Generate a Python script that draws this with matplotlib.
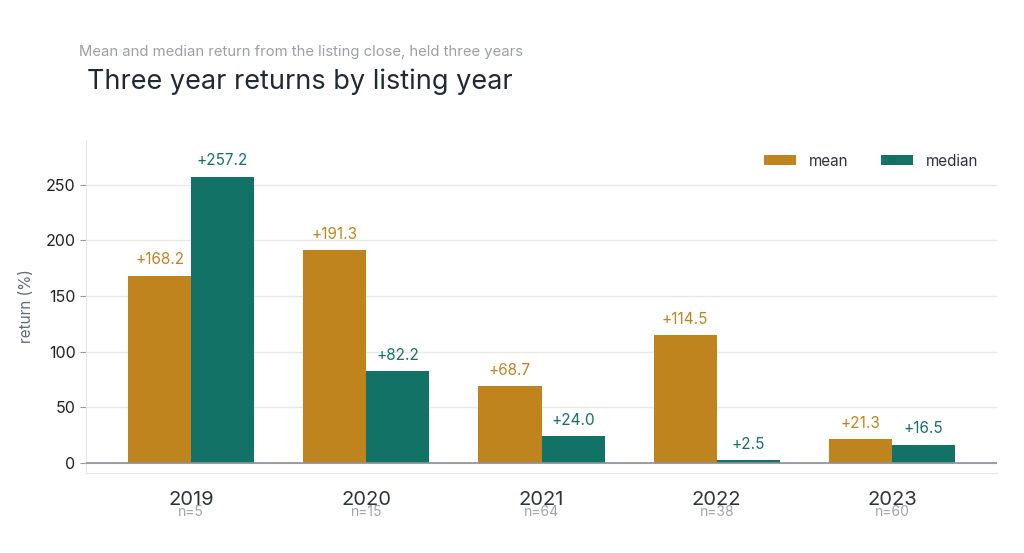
import matplotlib.pyplot as plt
import numpy as np

plt.rcParams['font.family'] = ['Inter', 'DejaVu Sans']

# data
years = ["2019", "2020", "2021", "2022", "2023"]
counts = [5, 15, 64, 38, 60]
mean_ret = [168.2, 191.3, 68.7, 114.5, 21.3]
median_ret = [257.2, 82.2, 24.0, 2.5, 16.5]

c_mean = "#c0841f"
c_median = "#137266"
grid_c = "#e8e8e4"

fig = plt.figure(figsize=(10.24, 5.53), dpi=100)
ax = fig.add_axes([86 / 1024, 1 - 473 / 553, (997 - 86) / 1024, (473 - 140) / 553])

x = np.arange(len(years))
w = 0.36
b1 = ax.bar(x - w / 2, mean_ret, w, color=c_mean, label="mean", zorder=3)
b2 = ax.bar(x + w / 2, median_ret, w, color=c_median, label="median", zorder=3)

for rect, v in zip(b1, mean_ret):
    ax.annotate(f"+{v:.1f}", (rect.get_x() + rect.get_width() / 2, v),
                xytext=(0, 6), textcoords="offset points", ha="center", va="bottom",
                color=c_mean, fontsize=11)
for rect, v in zip(b2, median_ret):
    ax.annotate(f"+{v:.1f}", (rect.get_x() + rect.get_width() / 2, v),
                xytext=(0, 6), textcoords="offset points", ha="center", va="bottom",
                color=c_median, fontsize=11)

ax.set_xlim(-0.6, 4.6)
ax.set_ylim(-9, 290)
ax.set_yticks([0, 50, 100, 150, 200, 250])
ax.yaxis.grid(True, color=grid_c, linewidth=1, zorder=0)
ax.axhline(0, color="#8a9099", linewidth=1.2, zorder=4)

for s in ["top", "right"]:
    ax.spines[s].set_visible(False)
for s in ["left", "bottom"]:
    ax.spines[s].set_color(grid_c)
ax.tick_params(axis="y", colors="#222222", labelsize=11.5, length=4, color="#999999")
ax.tick_params(axis="x", length=0, labelsize=14.5, labelcolor="#2b3440", pad=13)
ax.set_xticks(x)
ax.set_xticklabels(years)
for xi, n in zip(x, counts):
    ax.text(xi, -0.117, f"n={n}", transform=ax.get_xaxis_transform(), ha="center",
            va="center", fontsize=10, color="#a0a4aa")

ax.set_ylabel("return (%)", color="#5f6b7a", fontsize=11, labelpad=8)

leg = ax.legend(loc="upper right", ncol=2, frameon=False, fontsize=11,
                handlelength=2.1, handleheight=0.65, handletextpad=0.85,
                columnspacing=2.15, bbox_to_anchor=(0.995, 1.0))
for t in leg.get_texts():
    t.set_color("#2b3440")

fig.text(79 / 1024, 1 - 52 / 553, "Mean and median return from the listing close, held three years",
         fontsize=10.7, color="#9aa0a6", va="center")
fig.text(87 / 1024, 1 - 82 / 553, "Three year returns by listing year",
         fontsize=19.5, color="#1f2a36", va="center")

fig.savefig("out.png", dpi=100)
